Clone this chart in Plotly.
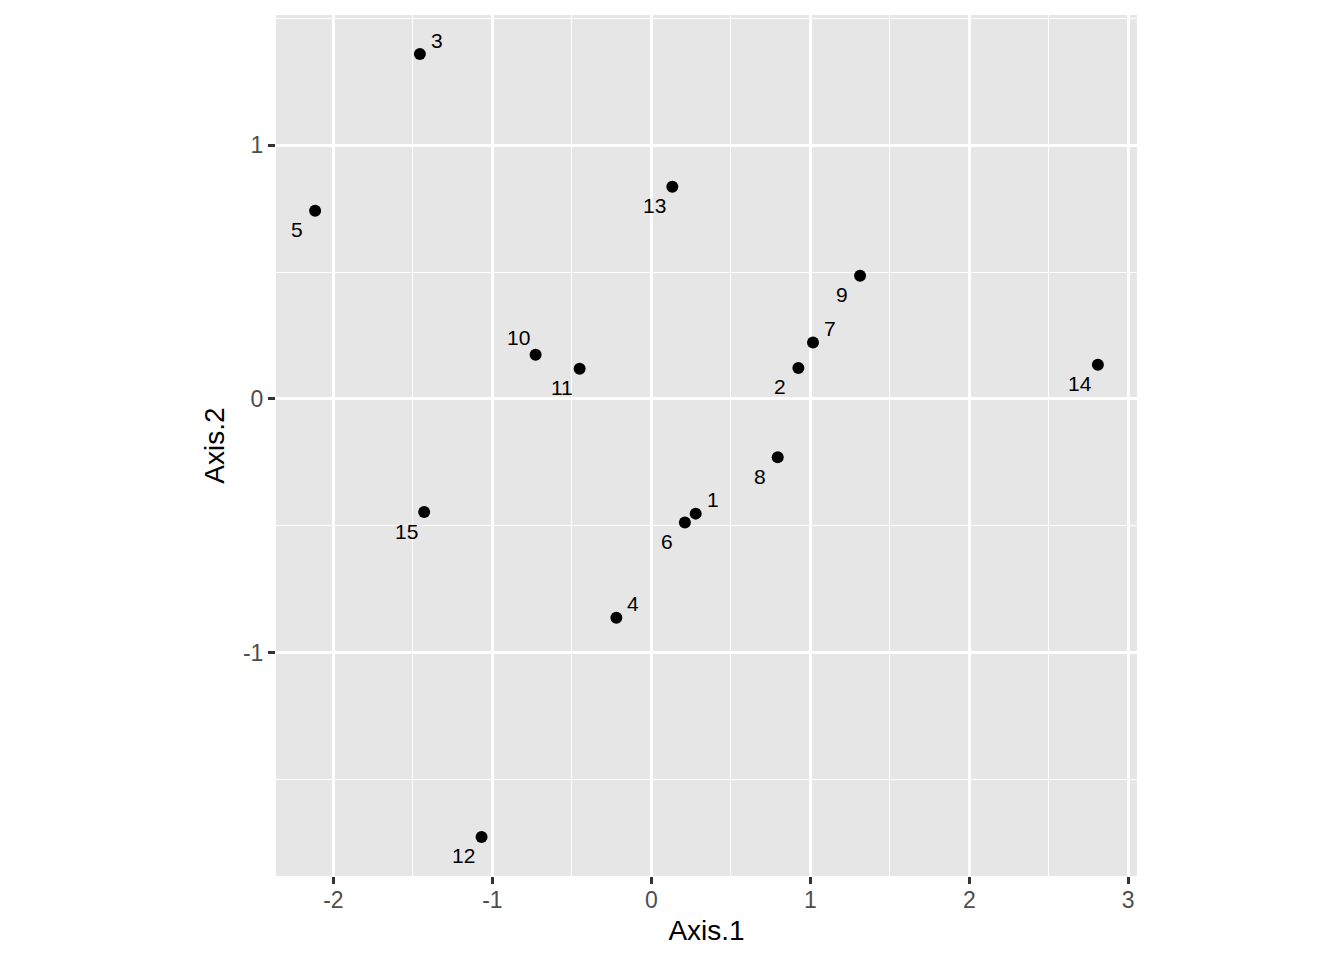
import plotly.graph_objects as go

# site scores
site_labels = ["1", "2", "3", "4", "5", "6", "7", "8", "9", "10", "11", "12", "13", "14", "15"]
axis1 = [0.279, 0.925, -1.456, -0.220, -2.115, 0.211, 1.017, 0.795, 1.313, -0.728, -0.451, -1.068, 0.132, 2.809, -1.429]
axis2 = [-0.452, 0.122, 1.359, -0.862, 0.742, -0.487, 0.222, -0.230, 0.485, 0.174, 0.119, -1.726, 0.836, 0.135, -0.446]
# which side the repelled label ended up on
label_side = ["ur", "ll", "ur", "ur", "ll", "ll", "ur", "ll", "ll", "ul", "ll", "ll", "ll", "ll", "ll"]

x_ticks = [-2, -1, 0, 1, 2, 3]
x_tick_text = ["-2", "-1", "0", "1", "2", "3"]
y_ticks = [-1, 0, 1]
y_tick_text = ["-1", "0", "1"]

FONT = "Liberation Sans, Arial, sans-serif"
SHIFTS = {"ur": (17, 14), "ll": (-18, -19), "ul": (-17, 17)}

fig = go.Figure()
fig.add_trace(go.Scatter(
    x=axis1,
    y=axis2,
    mode="markers",
    marker=dict(color="black", size=12),
    hoverinfo="text",
    text=site_labels,
    showlegend=False,
))

for lab, x, y, side in zip(site_labels, axis1, axis2, label_side):
    dx, dy = SHIFTS[side]
    fig.add_annotation(
        x=x, y=y, text=lab, showarrow=False,
        xshift=dx, yshift=dy,
        font=dict(family=FONT, size=21, color="black"),
    )

axis_common = dict(
    showgrid=True,
    gridcolor="white",
    gridwidth=2.8,
    zeroline=False,
    ticks="outside",
    ticklen=7,
    tickwidth=2.6,
    tickcolor="#333333",
    tickfont=dict(family=FONT, size=23, color="#4D4D4D"),
    minor=dict(showgrid=True, gridcolor="white", gridwidth=1.4, ticks=""),
    showline=False,
)

fig.update_xaxes(
    range=[-2.361, 3.055],
    tickvals=x_ticks,
    ticktext=x_tick_text,
    minor_dtick=0.5,
    ticklabelstandoff=-4,
    title=dict(text="Axis.1", font=dict(family=FONT, size=28, color="black"), standoff=8),
    **axis_common,
)
fig.update_yaxes(
    range=[-1.880, 1.513],
    tickvals=y_ticks,
    ticktext=y_tick_text,
    minor_dtick=0.5,
    title=dict(text="Axis.2", font=dict(family=FONT, size=28, color="black"), standoff=10),
    **axis_common,
)

fig.update_layout(
    width=1344,
    height=960,
    plot_bgcolor="#E6E6E6",
    paper_bgcolor="white",
    margin=dict(l=268, r=215, t=7, b=92),
)

fig.write_html("out.html")
